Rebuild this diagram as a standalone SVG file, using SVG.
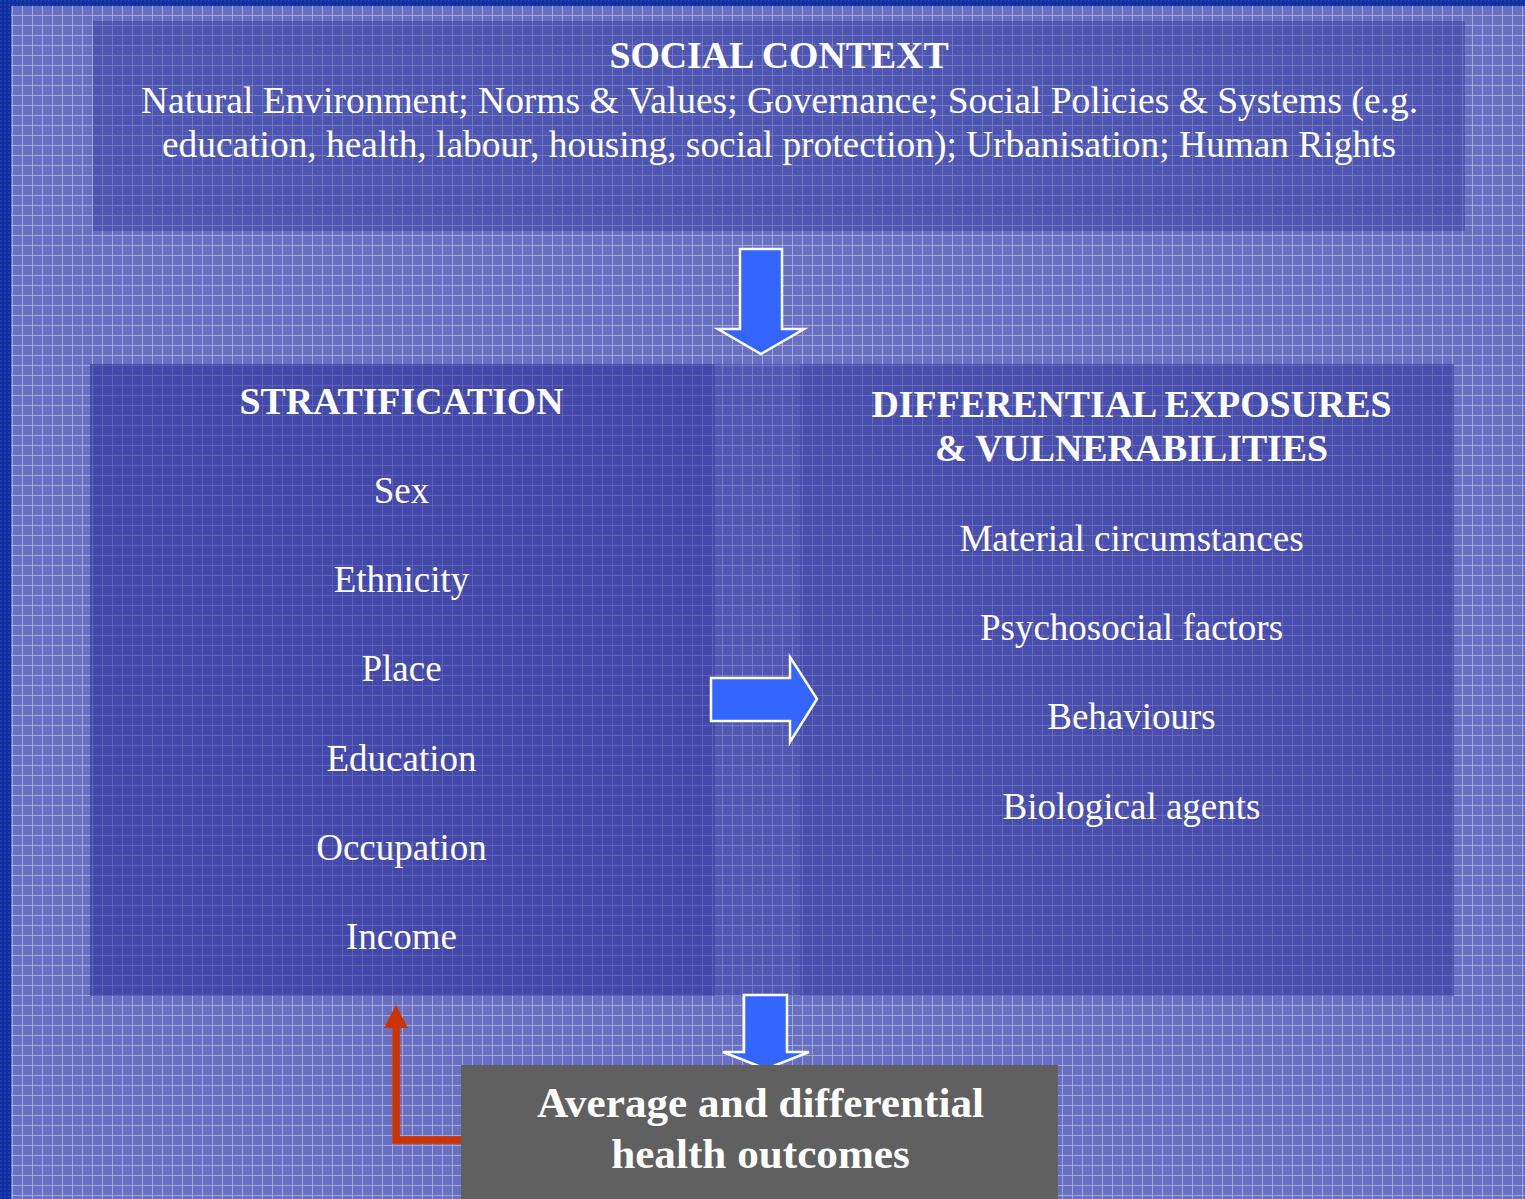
<svg xmlns="http://www.w3.org/2000/svg" width="1525" height="1199" viewBox="0 0 1525 1199">
  <defs>
    <!-- light grid over the slate-blue ground -->
    <pattern id="grid" x="2" y="5" width="10" height="10" patternUnits="userSpaceOnUse">
      <rect width="10" height="10" fill="#6870c4"/>
      <path d="M0 0.5H10M0.5 0V10" stroke="#a4a6cf" stroke-width="1" fill="none"/>
    </pattern>
    <pattern id="edge" width="4" height="4" patternUnits="userSpaceOnUse">
      <rect width="4" height="4" fill="#12309c"/>
      <rect width="2" height="2" fill="#1a3cb8"/>
    </pattern>
  </defs>
  <style>
    .panel { fill: #262c98; }
    .t { font-family: "Liberation Serif", "Times New Roman", serif; fill: #ffffff; text-anchor: middle; }
    .b { font-weight: bold; }
    .big { font-size: 37px; }
    .head { font-size: 37.8px; }
    .blue { fill: #3366ff; stroke: #ffffff; stroke-width: 2.5; stroke-linejoin: miter; }
    .red { fill: none; stroke: #cc3300; stroke-width: 7.5; }
  </style>

  <!-- ground -->
  <rect width="1525" height="1199" fill="url(#grid)"/>
  <rect x="0" y="0" width="1525" height="6" fill="url(#edge)"/>
  <rect x="0" y="0" width="11" height="1199" fill="url(#edge)"/>

  <!-- social context band -->
  <g id="social-context">
    <rect class="panel" x="93" y="21" width="1372" height="210" opacity="0.38"/>
    <text class="t b head" x="779" y="68">SOCIAL CONTEXT</text>
    <text class="t big" x="779.5" y="113" textLength="1277" lengthAdjust="spacingAndGlyphs">Natural Environment; Norms &amp; Values; Governance; Social Policies &amp; Systems (e.g.</text>
    <text class="t big" x="779" y="157" textLength="1234" lengthAdjust="spacingAndGlyphs">education, health, labour, housing, social protection); Urbanisation; Human Rights</text>
  </g>

  <!-- shared backdrop of the two middle columns -->
  <rect class="panel" x="90" y="364" width="1364" height="632" opacity="0.36"/>

  <g id="stratification">
    <rect class="panel" x="90" y="364" width="625" height="632" opacity="0.3"/>
    <text class="t b head" x="401.5" y="414">STRATIFICATION</text>
    <text class="t big" x="401.5" y="503">Sex</text>
    <text class="t big" x="401.5" y="592">Ethnicity</text>
    <text class="t big" x="401.5" y="681">Place</text>
    <text class="t big" x="401.5" y="771">Education</text>
    <text class="t big" x="401.5" y="860">Occupation</text>
    <text class="t big" x="401.5" y="949">Income</text>
  </g>

  <g id="exposures">
    <rect class="panel" x="800" y="364" width="654" height="632" opacity="0.2"/>
    <text class="t b head" x="1131.5" y="417">DIFFERENTIAL EXPOSURES</text>
    <text class="t b head" x="1131.5" y="461">&amp; VULNERABILITIES</text>
    <text class="t big" x="1131.5" y="551">Material circumstances</text>
    <text class="t big" x="1131.5" y="640">Psychosocial factors</text>
    <text class="t big" x="1131.5" y="729">Behaviours</text>
    <text class="t big" x="1131.5" y="819">Biological agents</text>
  </g>

  <!-- connectors -->
  <g id="connectors">
    <polygon class="blue" points="740,249 782,249 782,329 804,329 761,354 718,329 740,329"/>
    <polygon class="blue" points="711,678 790,678 790,657 817,699 790,742 790,721 711,721"/>
    <polygon class="blue" points="744,995 787,995 787,1052 809,1052 766,1069 723,1052 744,1052"/>
    <polyline class="red" points="465,1140 396,1140 396,1026"/>
    <polygon points="384,1028 408,1028 396,1005" fill="#cc3300"/>
  </g>

  <g id="outcomes">
    <rect x="461" y="1065" width="597" height="134" fill="#606060"/>
    <text class="t b" x="760.5" y="1117" font-size="43.2">Average and differential</text>
    <text class="t b" x="760.5" y="1168" font-size="43.2">health outcomes</text>
  </g>
</svg>
